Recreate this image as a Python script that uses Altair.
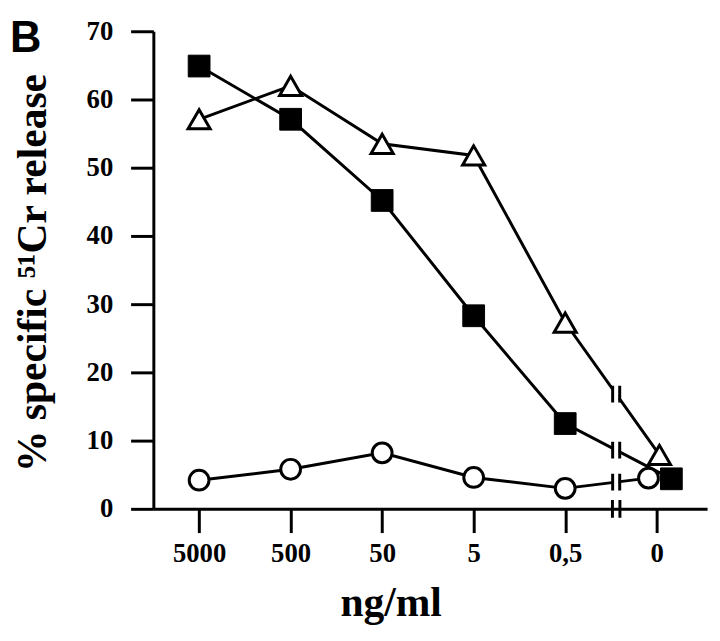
import altair as alt
import pandas as pd

x_labels = ['5000', '500', '50', '5', '0,5', '0']
y_ticks = [0, 10, 20, 30, 40, 50, 60, 70]
series_names = ['square', 'triangle', 'circle']
squares = [64.9, 57.1, 45.2, 28.3, 12.5, 4.4]
triangles = [57.1, 62.0, 53.5, 51.8, 27.3, 7.9]
circles = [4.2, 5.8, 8.2, 4.6, 3.0, 4.5]
# markers at the "0" concentration are drawn slightly apart
offset_at_zero = [0.16, 0.03, -0.09]
break_pos = 4.557  # axis/line break between 0,5 and 0

rows = []
brk = []
for name, vals, off in zip(series_names, [squares, triangles, circles], offset_at_zero):
    n = len(vals)
    for i, v in enumerate(vals):
        pos = i + (off if i == n - 1 else 0)
        rows.append(dict(series=name, pos=pos, value=v, order=i))
    x0, y0 = n - 2, vals[n - 2]
    x1, y1 = n - 1 + off, vals[n - 1]
    t = (break_pos - x0) / (x1 - x0)
    brk.append(dict(series=name, pos=break_pos, value=y0 + t * (y1 - y0)))
df = pd.DataFrame(rows)
brk_df = pd.DataFrame(brk)
axis_brk_df = pd.DataFrame([dict(pos=break_pos, value=0)])

label_expr = "[" + ",".join("'%s'" % s for s in x_labels) + "][datum.value]"

X = alt.X('pos:Q',
          scale=alt.Scale(domain=[-0.5, 5.55], nice=False, zero=False),
          axis=alt.Axis(values=list(range(len(x_labels))), labelExpr=label_expr,
                        title='ng/ml', tickSize=24, labelPadding=8,
                        titleX=240, titleY=108, titleAlign='center',
                        titleBaseline='alphabetic', titleFontSize=42))
Y = alt.Y('value:Q',
          scale=alt.Scale(domain=[0, 70], nice=False, zero=True),
          axis=alt.Axis(values=y_ticks, title='% specific \u2075\u00b9Cr release',
                        tickSize=23, labelPadding=18, titleAngle=270,
                        titleX=-109, titleY=244, titleAlign='center',
                        titleBaseline='alphabetic', titleFontSize=42))

base = alt.Chart(df)
lines = base.mark_line(color='black', strokeWidth=3).encode(
    x=X, y=Y, detail='series:N', order='order:Q')

gap_shape = "M-0.3,-0.65L0.3,-0.65L0.3,0.65L-0.3,0.65Z"
bar_shape = "M-0.42,-1L-0.42,1M0.42,-1L0.42,1"
gaps = alt.Chart(brk_df).mark_point(shape=gap_shape, size=289, filled=True,
                                    fill='white', stroke=None, opacity=1).encode(x=X, y=Y)
bars = alt.Chart(brk_df).mark_point(shape=bar_shape, size=289, filled=False,
                                    stroke='black', strokeWidth=3, opacity=1).encode(x=X, y=Y)
axis_bars = alt.Chart(axis_brk_df).mark_point(shape=bar_shape, size=324, filled=False,
                                              stroke='black', strokeWidth=3, opacity=1).encode(x=X, y=Y)

sq = base.transform_filter(alt.datum.series == 'square').mark_point(
    shape='square', size=484, filled=True, fill='black', stroke='black',
    strokeWidth=1, opacity=1).encode(x=X, y=Y)
tri = base.transform_filter(alt.datum.series == 'triangle').mark_point(
    shape='triangle-up', size=500, filled=True, fill='white', stroke='black',
    strokeWidth=3, opacity=1).encode(x=X, y=Y)
cir = base.transform_filter(alt.datum.series == 'circle').mark_point(
    shape='circle', size=400, filled=True, fill='white', stroke='black',
    strokeWidth=3, opacity=1).encode(x=X, y=Y)

panel = alt.Chart(pd.DataFrame({'t': ['B']})).mark_text(
    font='Liberation Sans', fontWeight='bold', fontSize=44, align='left',
    baseline='alphabetic', color='black').encode(
    x=alt.value(-145), y=alt.value(21), text='t:N')

chart = alt.layer(lines, gaps, bars, axis_bars, tri, sq, cir, panel).properties(
    width=560, height=483,
    padding={'left': 147, 'top': 20, 'right': 5, 'bottom': 118},
    autosize='none',
).configure_view(stroke=None).configure_axis(
    grid=False, domainColor='black', domainWidth=3, tickColor='black', tickWidth=3,
    labelFont='Liberation Serif', labelFontWeight='bold', labelFontSize=27,
    labelColor='black', titleFont='Liberation Serif', titleFontWeight='bold',
    titleColor='black'
)

chart.save("out.html", embed_options={"renderer": "svg", "actions": False})
